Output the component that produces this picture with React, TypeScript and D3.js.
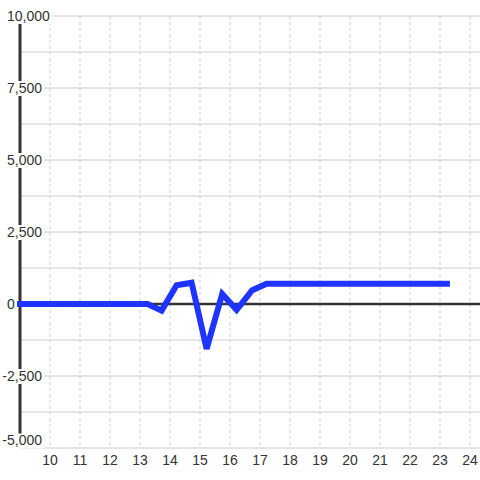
import React from "react";
import * as d3 from "d3";

const xValues = [8.9, 13.25, 13.72, 14.22, 14.72, 15.22, 15.74, 16.22, 16.74, 17.22, 23.33];
const yValues = [0, 0, -230, 650, 740, -1560, 350, -200, 480, 700, 700];
const xTicks = [10, 11, 12, 13, 14, 15, 16, 17, 18, 19, 20, 21, 22, 23, 24];
const yLabelTicks = [10000, 7500, 5000, 2500, 0, -2500, -5000];
const yGridTicks = d3.range(-5000, 10001, 1250);

const W = 480;
const H = 480;

export default function App() {
  const x = d3.scaleLinear().domain([9, 24.333]).range([20, 480]);
  const y = d3.scaleLinear().domain([-5000, 10000]).range([448, 16]);
  const line = d3
    .line<number>()
    .x((_, i) => x(xValues[i]))
    .y((d) => y(d));
  const fmt = d3.format(",");
  const font = "'Liberation Sans', Arial, sans-serif";
  const text = "#333";
  return (
    <svg
      width={W}
      height={H}
      style={{ position: "absolute", left: 0, top: 0, background: "#fff" }}
    >
      <rect x={0} y={0} width={W} height={H} fill="#fff" />
      {xTicks.map((t) => (
        <line
          key={"vx" + t}
          x1={x(t)}
          x2={x(t)}
          y1={y(10000)}
          y2={y(-5000)}
          stroke="#ccc"
          strokeWidth={1}
          strokeDasharray="3,3"
        />
      ))}
      {yGridTicks.map((t) => (
        <line
          key={"hy" + t}
          x1={20}
          x2={480}
          y1={y(t)}
          y2={y(t)}
          stroke="#ccc"
          strokeWidth={1}
        />
      ))}
      <line x1={20} x2={480} y1={y(0)} y2={y(0)} stroke="#333" strokeWidth={2.5} />
      <line x1={20} x2={20} y1={y(10000)} y2={y(-5000)} stroke="#333" strokeWidth={3} />
      {yLabelTicks.map((t) => {
        const neg = t < 0;
        const tx = neg ? 2.3 : 7;
        let cy = y(t) + 1;
        if (cy > 441.5) cy = 441.5;
        const label = fmt(t).replace("−", "-");
        const w = label.length * 7.8 - (label.includes(",") ? 3.9 : 0) - (neg ? 3 : 0);
        return (
          <g key={"yl" + t}>
            <rect x={tx - 2} y={cy - 8} width={w + 4} height={15} fill="#fff" />
            <text
              x={tx}
              y={cy}
              dominantBaseline="middle"
              fontFamily={font}
              fontSize={14}
              fill={text}
            >
              {label}
            </text>
          </g>
        );
      })}
      {xTicks.map((t) => (
        <text
          key={"xl" + t}
          x={x(t)}
          y={461}
          textAnchor="middle"
          dominantBaseline="middle"
          fontFamily={font}
          fontSize={14}
          fill={text}
        >
          {t}
        </text>
      ))}
      <path
        d={line(yValues) || ""}
        fill="none"
        stroke="#1f35ff"
        strokeWidth={6}
        strokeLinejoin="miter"
      />
    </svg>
  );
}
